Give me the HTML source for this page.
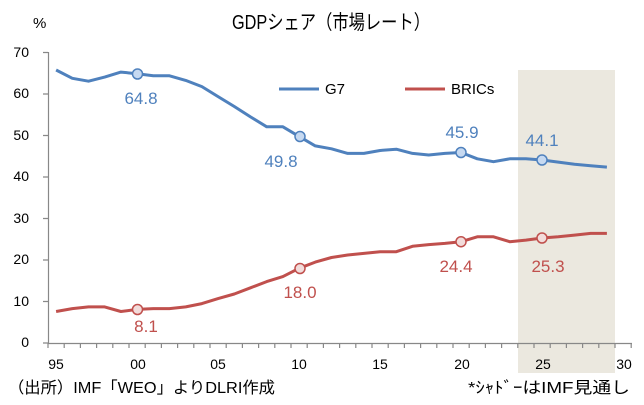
<!DOCTYPE html>
<html><head><meta charset="utf-8"><style>
body{margin:0;background:#fff}
svg text{font-family:"Liberation Sans","Noto Sans CJK JP",sans-serif}
</style></head><body>
<svg width="644" height="400" xmlns="http://www.w3.org/2000/svg">
<rect x="518" y="70" width="97" height="303" fill="#ebe8df"/>
<text x="232" y="29" font-size="20" fill="#000" textLength="198" lengthAdjust="spacingAndGlyphs">GDPシェア（市場レート）</text>
<text x="33" y="28" font-size="15" fill="#000">%</text>
<g font-size="14" fill="#000" text-anchor="end">
<text x="29" y="57">70</text><text x="29" y="98">60</text><text x="29" y="140">50</text><text x="29" y="181">40</text><text x="29" y="223">30</text><text x="29" y="264">20</text><text x="29" y="306">10</text><text x="29" y="347">0</text>
</g>
<g stroke="#888" stroke-width="1.2" fill="none">
<path d="M48.5 52V343M43 52.5H48M43 94H48M43 135.5H48M43 177H48M43 218.5H48M43 260H48M43 301.5H48M43 343H48"/>
<path d="M48 343.5H632"/>
<path d="M48 343v5M64.2 343v5M80.4 343v5M96.6 343v5M112.8 343v5M129 343v5M145.2 343v5M161.4 343v5M177.6 343v5M193.8 343v5M210 343v5M226.2 343v5M242.4 343v5M258.6 343v5M274.8 343v5M291 343v5M307.2 343v5M323.4 343v5M339.6 343v5M355.8 343v5M372 343v5M388.2 343v5M404.4 343v5M420.6 343v5M436.8 343v5M453 343v5M469.2 343v5M485.4 343v5M501.6 343v5M517.8 343v5M534 343v5M550.2 343v5M566.4 343v5M582.6 343v5M598.8 343v5M615 343v5M631.2 343v5"/>
</g>
<g font-size="14" fill="#000" text-anchor="middle">
<text x="56" y="369">95</text><text x="138" y="369">00</text><text x="218" y="369">05</text><text x="299" y="369">10</text><text x="380" y="369">15</text><text x="462" y="369">20</text><text x="543" y="369">25</text><text x="624" y="369">30</text>
</g>
<text x="8" y="393" font-size="16" fill="#000" textLength="267" lengthAdjust="spacingAndGlyphs">（出所）IMF「WEO」よりDLRI作成</text>
<text x="468" y="393" font-size="16" fill="#000" textLength="162" lengthAdjust="spacingAndGlyphs">*ｼｬﾄﾞｰはIMF見通し</text>
<polyline fill="none" stroke="#4f81bd" stroke-width="3" stroke-linejoin="round" points="
56.1,70 72.3,78.3 88.5,81.2 104.7,77.1 120.9,72.1 137.1,73.7 153.3,75.8 169.5,75.8 185.7,80.4 201.9,86.6 218.1,96.6 234.3,106.5 250.5,116.9 266.7,126.8 282.9,126.8 299.1,136.4 315.3,145.9 331.5,148.8 347.7,153.4 363.9,153.4 380.1,150.5 396.3,149.2 412.5,153.4 428.7,155 444.9,153.4 461.1,152.5 477.3,158.8 493.5,161.7 509.7,158.8 525.9,158.8 542.1,160 558.3,162.1 574.5,164.2 590.7,165.8 606.9,167.1"/>
<polyline fill="none" stroke="#c0504d" stroke-width="3" stroke-linejoin="round" points="
56.1,311.5 72.3,308.6 88.5,306.9 104.7,306.9 120.9,311.5 137.1,309.4 153.3,308.6 169.5,308.6 185.7,306.9 201.9,303.6 218.1,298.6 234.3,294 250.5,287.8 266.7,281.6 282.9,276.6 299.1,268.3 315.3,262.1 331.5,257.5 347.7,255 363.9,253.4 380.1,251.7 396.3,251.7 412.5,246.3 428.7,244.6 444.9,243.4 461.1,241.7 477.3,236.8 493.5,236.8 509.7,241.7 525.9,240.1 542.1,238 558.3,236.8 574.5,235.1 590.7,233.4 606.9,233.4"/>
<g stroke="#4f81bd" stroke-width="1.5" fill="#c6d9f1">
<circle cx="137.5" cy="74" r="5"/><circle cx="300" cy="136.5" r="5"/><circle cx="461" cy="152.5" r="5"/><circle cx="542" cy="160" r="5"/>
</g>
<g stroke="#c0504d" stroke-width="1.5" fill="#f2dcdb">
<circle cx="137.5" cy="309.5" r="5"/><circle cx="300" cy="268.5" r="5"/><circle cx="461" cy="241.7" r="5"/><circle cx="542" cy="238" r="5"/>
</g>
<g font-size="17" fill="#4f81bd" text-anchor="middle">
<text x="141" y="104">64.8</text><text x="281" y="167">49.8</text><text x="462" y="138">45.9</text><text x="542" y="146">44.1</text>
</g>
<g font-size="17" fill="#c0504d" text-anchor="middle">
<text x="146" y="332">8.1</text><text x="300" y="298">18.0</text><text x="456" y="272">24.4</text><text x="548" y="272">25.3</text>
</g>
<line x1="279" y1="89" x2="319" y2="89" stroke="#4f81bd" stroke-width="3"/>
<text x="325" y="94" font-size="15" fill="#000">G7</text>
<line x1="405" y1="89" x2="445" y2="89" stroke="#c0504d" stroke-width="3"/>
<text x="451" y="94" font-size="15" fill="#000">BRICs</text>
</svg>
</body></html>
